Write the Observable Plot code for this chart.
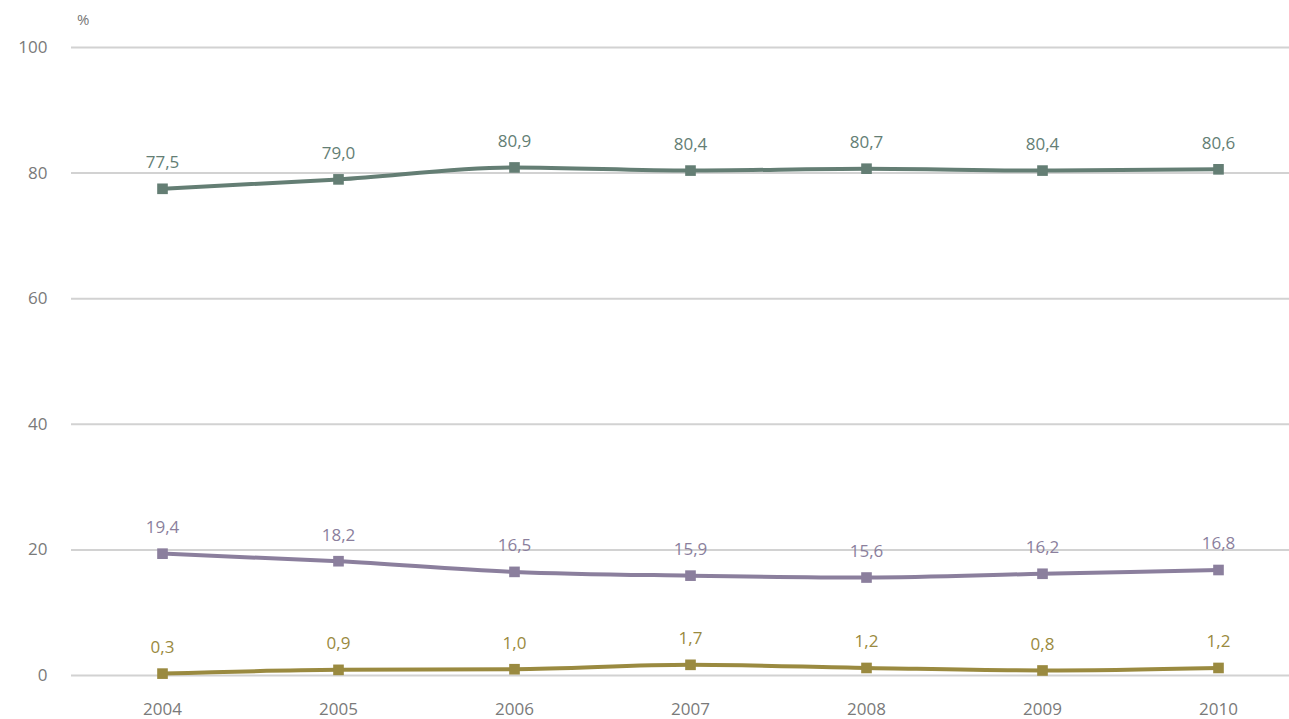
<!DOCTYPE html>
<html><head><meta charset="utf-8">
<script src="https://cdn.jsdelivr.net/npm/d3@7"></script>
<script src="https://cdn.jsdelivr.net/npm/@observablehq/plot@0.6"></script>
<style>
body{margin:0;background:#fff;}
#chart{position:relative;width:1289px;height:719px;}
#unit{position:absolute;left:77px;top:9px;font:15px "Open Sans",sans-serif;color:#777;}
</style></head>
<body><div id="chart"><div id="unit">%</div></div>
<script>
const years = ["2004","2005","2006","2007","2008","2009","2010"];
const seriesA = [77.5, 79.0, 80.9, 80.4, 80.7, 80.4, 80.6];
const seriesB = [19.4, 18.2, 16.5, 15.9, 15.6, 16.2, 16.8];
const seriesC = [0.3, 0.9, 1.0, 1.7, 1.2, 0.8, 1.2];
const yTicks = [0, 20, 40, 60, 80, 100];
const colors = {A: "#647e74", B: "#8b7f9d", C: "#9a8a40"};

const rows = [];
for (const [key, vals] of [["A", seriesA], ["B", seriesB], ["C", seriesC]]) {
  vals.forEach((v, i) => rows.push({year: years[i], value: v, s: key}));
}
const fmt = v => v.toFixed(1).replace(".", ",");

const plot = Plot.plot({
  width: 1289, height: 719,
  marginLeft: 71, marginRight: 0, marginTop: 47, marginBottom: 44,
  style: {fontFamily: "'Open Sans', sans-serif", fontSize: "17px", color: "#777", background: "#fff"},
  x: {type: "point", domain: years, range: [160, 1219], padding: 0, label: null},
  y: {domain: [0, 100], ticks: yTicks, label: null},
  color: {domain: ["A", "B", "C"], range: [colors.A, colors.B, colors.C]},
  marks: [
    Plot.ruleY(yTicks, {stroke: "#d2d2d2", strokeWidth: 2}),
    Plot.axisY({ticks: yTicks, tickSize: 0, tickPadding: 24, fontSize: 17, fill: "#7a7a7a", label: null}),
    Plot.axisX({tickSize: 0, tickPadding: 27, fontSize: 17, fill: "#7a7a7a", label: null}),
    Plot.line(rows, {x: "year", y: "value", z: "s", stroke: "s", strokeWidth: 4, curve: "monotone-x"}),
    Plot.dot(rows, {x: "year", y: "value", fill: "s", symbol: "square", r: 6}),
    Plot.text(rows, {x: "year", y: "value", text: d => fmt(d.value), fill: "s", dy: -26, fontSize: 17})
  ]
});
document.getElementById("chart").appendChild(plot);
</script></body></html>
